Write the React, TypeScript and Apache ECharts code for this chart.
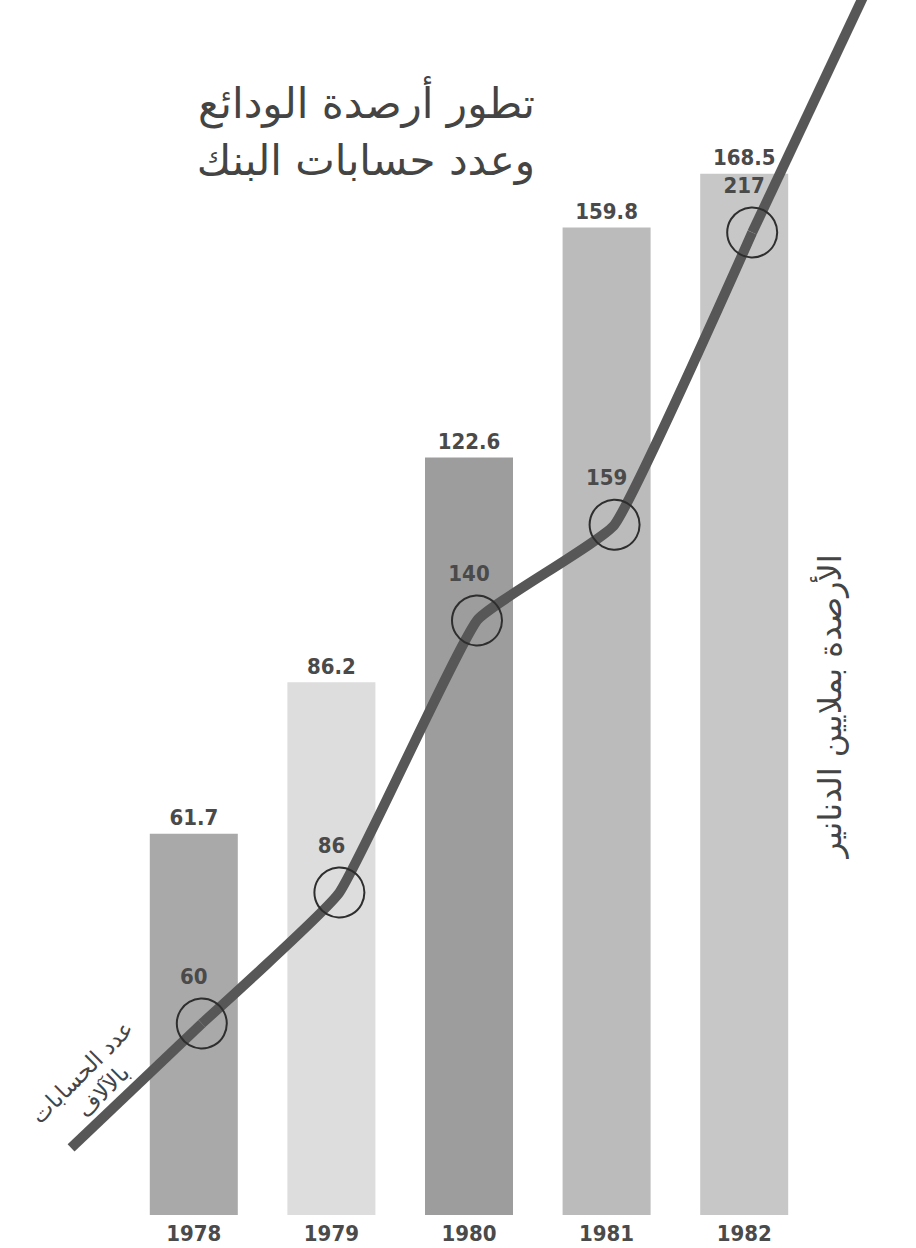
import React, { useEffect, useRef } from "react";
import * as echarts from "echarts";

// ---- data ----
const years = ["1978", "1979", "1980", "1981", "1982"];
// deposit balances, millions of dinars (bars)
const depositValues = [61.7, 86.2, 122.6, 159.8, 168.5];
// number of accounts, thousands (line)
const accountValues = [60, 86, 140, 159, 217];
const barColors = ["#a9a9a9", "#dddddd", "#9d9d9d", "#bbbbbb", "#c7c7c7"];
const titleLines = ["تطور أرصدة الودائع", "وعدد حسابات البنك"];
const rightAxisName = "الأرصدة بملايين الدنانير";
const leftAxisNameLines = ["عدد الحسابات", "بالآلاف"];

const numFont = {
  fontFamily: "'DejaVu Sans Condensed', 'DejaVu Sans', sans-serif",
  fontWeight: "bold" as const,
  fontSize: 22,
  color: "#4a4a4a",
};
const arFont = "'DejaVu Sans', sans-serif";
const lineColor = "#575757";

export default function App() {
  const ref = useRef<HTMLDivElement>(null);
  useEffect(() => {
    document.body.style.margin = "0";
    if (!ref.current) return;
    const chart = echarts.init(ref.current, null, { renderer: "svg" });
    const n = accountValues.length;
    const option: any = {
      animation: false,
      backgroundColor: "#ffffff",
      grid: [
        { left: 125, right: 103, top: 41, bottom: 33 },
        { left: 133, right: 95, top: 41, bottom: 33 },
      ],
      xAxis: [
        {
          type: "category",
          gridIndex: 0,
          data: years,
          axisLine: { show: false },
          axisTick: { show: false },
          axisLabel: { ...numFont, margin: 7 },
        },
        { type: "category", gridIndex: 1, data: years, show: false },
      ],
      yAxis: [
        { type: "value", gridIndex: 0, min: 0, max: 190, show: false, splitLine: { show: false } },
        { type: "value", gridIndex: 1, min: 22, max: 255, show: false, splitLine: { show: false } },
      ],
      series: [
        {
          type: "bar",
          xAxisIndex: 0,
          yAxisIndex: 0,
          barWidth: 88,
          data: depositValues.map((v, i) => ({ value: v, itemStyle: { color: barColors[i] } })),
          label: { show: true, position: "top", distance: 5, ...numFont },
          z: 1,
        },
        {
          type: "custom",
          coordinateSystem: "cartesian2d",
          xAxisIndex: 1,
          yAxisIndex: 1,
          clip: false,
          silent: true,
          data: accountValues.map((v, i) => [i, v]),
          renderItem: (params: any, api: any) => {
            const i = params.dataIndex;
            if (i !== 0 && i !== n - 1) return { type: "group", children: [] };
            const a = api.coord([i, accountValues[i]]);
            const j = i === 0 ? 1 : n - 2;
            const b = api.coord([j, accountValues[j]]);
            const f = i === 0 ? 0.95 : 1.0;
            return {
              type: "line",
              shape: {
                x1: a[0],
                y1: a[1],
                x2: a[0] + (a[0] - b[0]) * f,
                y2: a[1] + (a[1] - b[1]) * f,
              },
              style: { stroke: lineColor, lineWidth: 10 },
            };
          },
          z: 2,
        },
        {
          type: "line",
          xAxisIndex: 1,
          yAxisIndex: 1,
          data: accountValues,
          smooth: 0.12,
          lineStyle: { color: lineColor, width: 10 },
          symbol: "circle",
          symbolSize: 50,
          itemStyle: { color: "rgba(0,0,0,0)", borderColor: "#2e2e2e", borderWidth: 2 },
          label: { show: true, position: "top", distance: 10, offset: [-8, 0], ...numFont },
          z: 3,
        },
      ],
      graphic: [
        {
          type: "text",
          x: 535,
          y: 103,
          style: { text: titleLines[0], fontFamily: arFont, fontSize: 42, fill: "#444", align: "right", verticalAlign: "middle" },
        },
        {
          type: "text",
          x: 535,
          y: 160,
          style: { text: titleLines[1], fontFamily: arFont, fontSize: 42, fill: "#444", align: "right", verticalAlign: "middle" },
        },
        {
          type: "text",
          x: 830,
          y: 706,
          rotation: Math.PI / 2,
          style: { text: rightAxisName, fontFamily: arFont, fontSize: 32, fill: "#444", align: "center", verticalAlign: "middle" },
        },
        {
          type: "text",
          x: 82,
          y: 1072,
          rotation: Math.PI / 4,
          style: { text: leftAxisNameLines[0], fontFamily: arFont, fontSize: 23, fill: "#444", align: "center", verticalAlign: "middle" },
        },
        {
          type: "text",
          x: 103,
          y: 1091,
          rotation: Math.PI / 4,
          style: { text: leftAxisNameLines[1], fontFamily: arFont, fontSize: 23, fill: "#444", align: "center", verticalAlign: "middle" },
        },
      ],
    };
    chart.setOption(option);
    return () => chart.dispose();
  }, []);
  return <div ref={ref} style={{ width: 916, height: 1248 }} />;
}
